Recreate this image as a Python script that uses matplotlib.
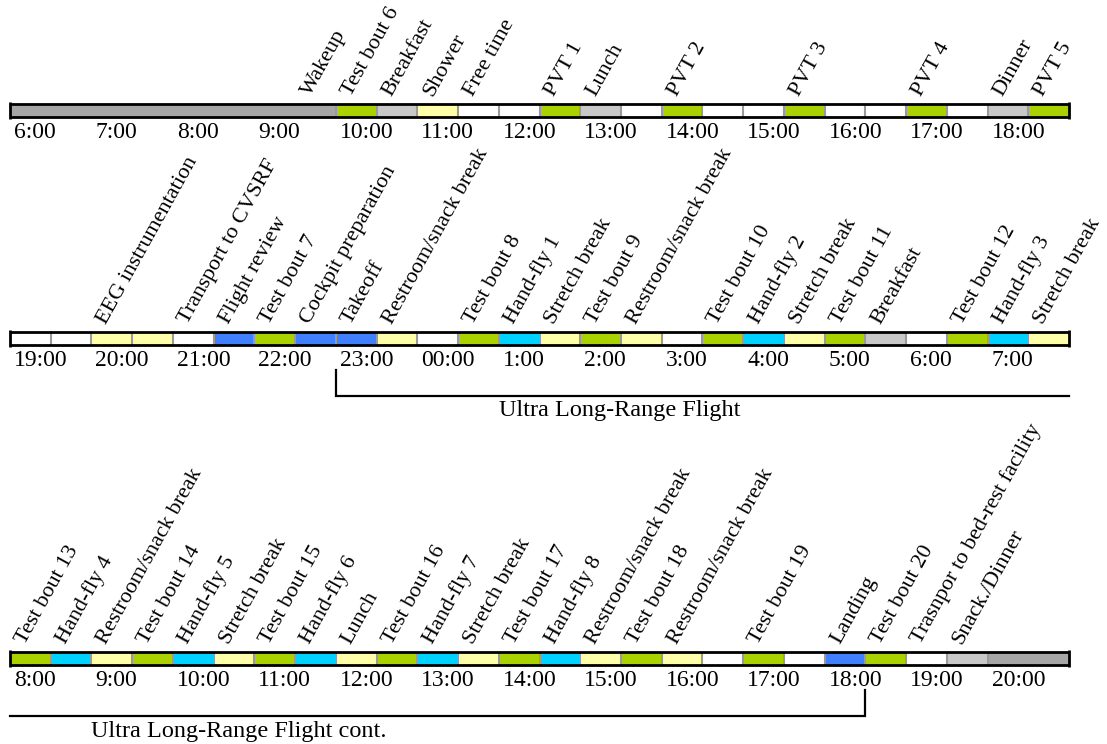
import matplotlib.pyplot as plt

plt.rcParams['font.family'] = ['Liberation Serif', 'DejaVu Serif']

# colours per activity kind
kind_colors = {
    'sleep': '#a6a6a6',
    'meal': '#c8c8c8',
    'test': '#aad200',
    'break': '#ffffaa',
    'free': '#ffffff',
    'prep': '#4080ff',
    'fly': '#00d2ff',
}

# day before flight, 30 min slots from 6:00
row1_start = 6
row1_kinds = ['sleep'] * 8 + ['test', 'meal', 'break', 'free', 'free', 'test', 'meal', 'free',
                              'test', 'free', 'free', 'test', 'free', 'free', 'test', 'free',
                              'meal', 'test']
row1_labels = [''] * 7 + ['Wakeup', 'Test bout 6', 'Breakfast', 'Shower', 'Free time', '',
                          'PVT 1', 'Lunch', '', 'PVT 2', '', '', 'PVT 3', '', '', 'PVT 4', '',
                          'Dinner', 'PVT 5']

# flight night, from 19:00
row2_start = 19
row2_kinds = ['free', 'free', 'break', 'break', 'free', 'prep', 'test', 'prep', 'prep', 'break',
              'free', 'test', 'fly', 'break', 'test', 'break', 'free', 'test', 'fly', 'break',
              'test', 'meal', 'free', 'test', 'fly', 'break']
row2_labels = ['', '', 'EEG instrumentation', '', 'Transport to CVSRF', 'Flight review',
               'Test bout 7', 'Cockpit preparation', 'Takeoff', 'Restroom/snack break', '',
               'Test bout 8', 'Hand-fly 1', 'Stretch break', 'Test bout 9',
               'Restroom/snack break', '', 'Test bout 10', 'Hand-fly 2', 'Stretch break',
               'Test bout 11', 'Breakfast', '', 'Test bout 12', 'Hand-fly 3', 'Stretch break']

# flight day, from 8:00
row3_start = 8
row3_kinds = ['test', 'fly', 'break', 'test', 'fly', 'break', 'test', 'fly', 'break', 'test',
              'fly', 'break', 'test', 'fly', 'break', 'test', 'break', 'free', 'test', 'free',
              'prep', 'test', 'free', 'meal', 'sleep', 'sleep']
row3_labels = ['Test bout 13', 'Hand-fly 4', 'Restroom/snack break', 'Test bout 14',
               'Hand-fly 5', 'Stretch break', 'Test bout 15', 'Hand-fly 6', 'Lunch',
               'Test bout 16', 'Hand-fly 7', 'Stretch break', 'Test bout 17', 'Hand-fly 8',
               'Restroom/snack break', 'Test bout 18', 'Restroom/snack break', '',
               'Test bout 19', '', 'Landing', 'Test bout 20', 'Trasnpor to bed-rest facility',
               'Snack./Dinner', '', '']

# flight brackets: (start, end, text, text position)
row2_flight = (23, 32, 'Ultra Long-Range Flight', 25)
row3_flight = (8, 18.5, 'Ultra Long-Range Flight cont.', 9)

W, H = 1107, 744
fig = plt.figure(figsize=(W / 100, H / 100), dpi=100)

BAR_PX = 13
HOUR_PX = 1059 / 13
FS_ROT = 16
FS_HOUR = 17
FS_NOTE = 17.5


def hour_label(h):
    h = h % 24
    return '00:00' if h == 0 else f'{h}:00'


def draw_row(top_px, start, kinds, labels, flight=None):
    ax = fig.add_axes([10 / W, 1 - (top_px + BAR_PX) / H, 1059 / W, BAR_PX / H])
    ax.set_xlim(start, start + 13)
    ax.set_ylim(0, BAR_PX)
    ax.axis('off')

    n = len(kinds)
    xs = [start + 0.5 * i for i in range(n)]
    ax.bar(xs, BAR_PX, width=0.5, align='edge', color=[kind_colors[k] for k in kinds],
           linewidth=0)

    # separators between slots (sleep blocks are drawn as one piece)
    for i in range(1, n):
        if kinds[i] == 'sleep' and kinds[i - 1] == 'sleep':
            continue
        ax.vlines(xs[i], 0, BAR_PX, color='#9a9a9a', lw=1.5)

    ax.hlines([0, BAR_PX], start, start + 13, color='black', lw=2, clip_on=False)
    ax.vlines([start, start + 13], -2, BAR_PX + 2, color='black', lw=2, clip_on=False)

    for x, lab in zip(xs, labels):
        if lab:
            ax.text(x + 15 / HOUR_PX, BAR_PX + 7, lab, rotation=61, rotation_mode='anchor',
                    ha='left', va='baseline', fontsize=FS_ROT, clip_on=False)

    for h in range(start, start + 13):
        ax.text(h + 4 / HOUR_PX, -5, hour_label(h), ha='left', va='top', fontsize=FS_HOUR,
                clip_on=False)

    if flight:
        f0, f1, txt, tx = flight
        if f0 > start:
            ax.plot([f0, f0, f1], [-25, -51, -51], color='black', lw=1.6, clip_on=False,
                    solid_joinstyle='miter')
        else:
            ax.plot([f0, f1, f1], [-51, -51, -25], color='black', lw=1.6, clip_on=False,
                    solid_joinstyle='miter')
        ax.text(tx, -66, txt, ha='left', va='center', fontsize=FS_NOTE, clip_on=False)


draw_row(104, row1_start, row1_kinds, row1_labels)
draw_row(332, row2_start, row2_kinds, row2_labels, row2_flight)
draw_row(652, row3_start, row3_kinds, row3_labels, row3_flight)

fig.savefig('out.png', dpi=100)
